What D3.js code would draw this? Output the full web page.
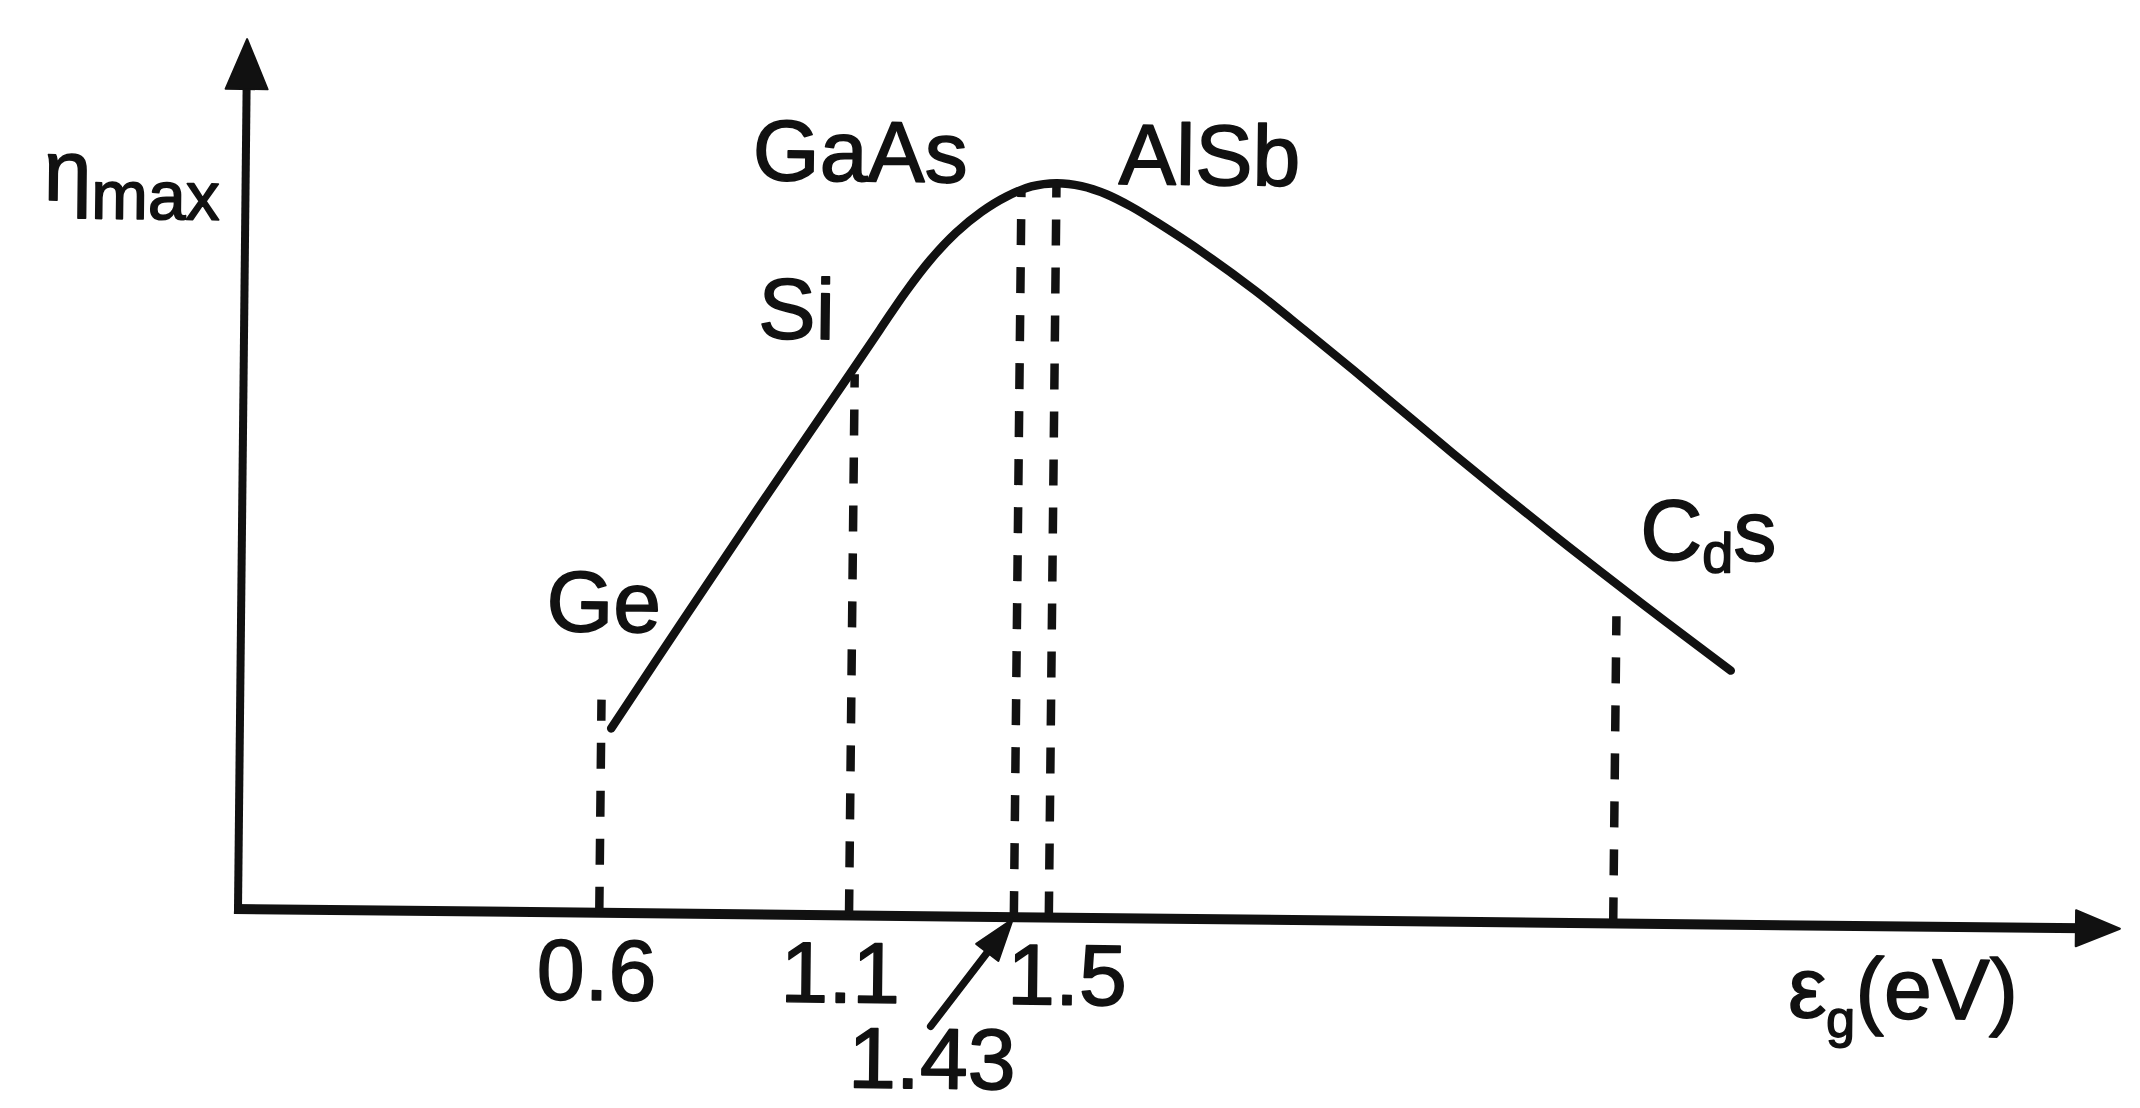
<!DOCTYPE html>
<html>
<head>
<meta charset="utf-8">
<script src="https://cdn.jsdelivr.net/npm/d3@7"></script>
<style>
  html, body { margin: 0; padding: 0; background: #fff; }
  svg { display: block; }
  text {
    font-family: "Liberation Sans", Arial, Helvetica, sans-serif;
    fill: #111; stroke: #111; stroke-width: 1.6px; stroke-linejoin: round;
  }
</style>
</head>
<body>
<svg id="chart" width="2140" height="1108"></svg>
<script>
// Maximum conversion efficiency of a solar cell against the band gap of its material

// band gap (eV) sampled along the efficiency curve
const bandGap = [0.62, 0.76, 0.92, 1.09, 1.15, 1.20, 1.25, 1.30, 1.35, 1.40, 1.45, 1.50, 1.55,
                 1.60, 1.65, 1.70, 1.80, 1.90, 2.00, 2.10, 2.20, 2.30, 2.40, 2.50, 2.60, 2.73, 2.86];
// relative maximum efficiency at each sample
const etaMax = [0.212, 0.336, 0.476, 0.622, 0.674, 0.717, 0.755, 0.786, 0.810, 0.828, 0.840, 0.844, 0.841,
                0.832, 0.818, 0.801, 0.764, 0.723, 0.678, 0.632, 0.585, 0.538, 0.492, 0.447, 0.403, 0.347, 0.292];

// semiconductors marked on the curve
const materials   = ["Ge", "Si", "GaAs", "AlSb", "CdS"];
const materialGap = [0.6, 1.1, 1.43, 1.5, 2.63];
const materialEta = [0.245, 0.622, 0.836, 0.844, 0.353];

// labelled band-gap values on the energy axis
const tickValues = [0.6, 1.1, 1.5];
const tickLabels = ["0.6", "1.1", "1.5"];
const arrowTickValue = 1.43;
const arrowTickLabel = "1.43";

const svg = d3.select("#chart");
svg.append("rect").attr("width", 2140).attr("height", 1108).attr("fill", "#fff");

// plot frame: origin at the axis corner, slightly tilted like the printed figure
const g = svg.append("g").attr("transform", "translate(238,909) rotate(0.6)");

const x = d3.scaleLinear().domain([0, 3]).range([61.6, 61.6 + 3 * 499.5]);
const y = d3.scaleLinear().domain([0, 1]).range([0, -870]);

const ink = "#111";

// y axis with arrow
g.append("line").attr("x1", 0).attr("y1", 5).attr("x2", 0).attr("y2", y(1) + 40)
  .attr("stroke", ink).attr("stroke-width", 8);
g.append("path")
  .attr("d", `M0,${y(1)} L21,${y(1) + 50} L-21,${y(1) + 50} Z`)
  .attr("fill", ink).attr("stroke", ink).attr("stroke-width", 2).attr("stroke-linejoin", "round");

// x axis with arrow
const xEnd = 1882;
g.append("line").attr("x1", -4).attr("y1", 0).attr("x2", xEnd - 35).attr("y2", 0)
  .attr("stroke", ink).attr("stroke-width", 10);
g.append("path")
  .attr("d", `M${xEnd},0 L${xEnd - 44},-18 L${xEnd - 44},18 Z`)
  .attr("fill", ink).attr("stroke", ink).attr("stroke-width", 2).attr("stroke-linejoin", "round");

// dashed drop lines from each material down to the energy axis
const markers = materials.map((m, i) => ({ name: m, gap: materialGap[i], eta: materialEta[i] }));
g.selectAll("line.drop").data(markers).join("line")
  .attr("class", "drop")
  .attr("x1", d => x(d.gap)).attr("y1", 0)
  .attr("x2", d => x(d.gap)).attr("y2", d => y(d.eta))
  .attr("stroke", ink).attr("stroke-width", 8.5)
  .attr("stroke-dasharray", "26 22");

// efficiency curve
const curvePts = bandGap.map((e, i) => [e, etaMax[i]]);
const line = d3.line().x(d => x(d[0])).y(d => y(d[1])).curve(d3.curveCatmullRom.alpha(0.5));
g.append("path").attr("d", line(curvePts))
  .attr("fill", "none").attr("stroke", ink).attr("stroke-width", 8.5)
  .attr("stroke-linecap", "round").attr("stroke-linejoin", "round");

// material names
const labelFont = 86;
const labelOffsets = {            // [dx from drop line, dy from marked point]
  "Ge":   [-56, -68],
  "Si":   [-97, -35],
  "GaAs": [-269, 0],
  "AlSb": [62, 0],
};
markers.filter(d => d.name !== "CdS").forEach(d => {
  const o = labelOffsets[d.name];
  g.append("text")
    .attr("x", x(d.gap) + o[0])
    .attr("y", (d.name === "GaAs" || d.name === "AlSb" ? y(0.844) : y(d.eta)) + o[1])
    .attr("font-size", labelFont)
    .text(d.name);
});
// CdS is set with a small "d"
const cds = markers.find(d => d.name === "CdS");
const cdsText = g.append("text")
  .attr("x", x(cds.gap) + 23).attr("y", y(cds.eta) - 57)
  .attr("font-size", labelFont);
cdsText.append("tspan").text("C");
cdsText.append("tspan").attr("font-size", 56).attr("dy", 12).text("d");
cdsText.append("tspan").attr("dy", -12).text("s");

// energy tick labels
const tickShift = [-2, -8, 19];
g.selectAll("text.tick").data(tickValues).join("text")
  .attr("class", "tick")
  .attr("x", (d, i) => x(d) + tickShift[i]).attr("y", 87)
  .attr("text-anchor", "middle").attr("font-size", labelFont)
  .text((d, i) => tickLabels[i]);

// 1.43 pointer
const ax = x(arrowTickValue);
const tail = [ax - 82, 110], tip = [ax - 1, 2];
const ang = Math.atan2(tip[1] - tail[1], tip[0] - tail[0]);
const headLen = 42, headHalf = 14;
const bx = tip[0] - headLen * Math.cos(ang), by = tip[1] - headLen * Math.sin(ang);
g.append("line").attr("x1", tail[0]).attr("y1", tail[1]).attr("x2", bx).attr("y2", by)
  .attr("stroke", ink).attr("stroke-width", 7.5).attr("stroke-linecap", "round");
g.append("path")
  .attr("d", `M${tip[0]},${tip[1]} L${bx + headHalf * Math.sin(ang)},${by - headHalf * Math.cos(ang)} L${bx - headHalf * Math.sin(ang)},${by + headHalf * Math.cos(ang)} Z`)
  .attr("fill", ink).attr("stroke", ink).attr("stroke-width", 2).attr("stroke-linejoin", "round");
g.append("text")
  .attr("x", ax - 164).attr("y", 172)
  .attr("font-size", labelFont)
  .text(arrowTickLabel);

// axis titles
const yTitle = g.append("text").attr("x", -202).attr("y", -707).attr("font-size", labelFont);
yTitle.append("tspan").text("η");
yTitle.append("tspan").attr("font-size", 68).attr("dy", 18).text("max");

const xTitle = g.append("text").attr("x", 1551).attr("y", 92).attr("font-size", labelFont);
xTitle.append("tspan").text("ε");
xTitle.append("tspan").attr("font-size", 52).attr("dy", 19).text("g");
xTitle.append("tspan").attr("dy", -19).text("(eV)");
</script>
</body>
</html>
